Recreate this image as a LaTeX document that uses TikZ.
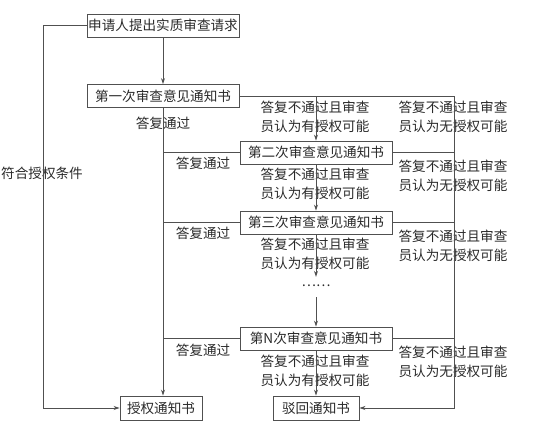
\documentclass[tikz,border=0pt]{standalone}
\usepackage{fontspec}
\setmainfont{Noto Sans CJK SC}
\usetikzlibrary{arrows.meta}
\definecolor{linegray}{HTML}{505050}
\definecolor{textgray}{HTML}{2A2A2A}
\tikzset{
  stepbox/.style={draw=linegray, line width=0.9pt, minimum width=152pt, minimum height=23pt, inner sep=0pt},
  endbox/.style={draw=linegray, line width=0.9pt, minimum height=24pt, inner sep=0pt},
  lbl/.style={align=center, inner sep=0pt},
  flow/.style={draw=linegray, line width=0.9pt},
  arr/.style={flow, -{Stealth[length=6pt,width=4pt]}}
}
\begin{document}
\begin{tikzpicture}[x=1pt, y=-1pt, font=\fontsize{13.6}{19.5}\selectfont, text=textgray]
      \useasboundingbox (0,0) rectangle (544,434);
      \draw
        (163,25.5) node[stepbox] (req){申请人提出实质审查请求}
        (163,96) node[stepbox] (n1){第一次审查意见通知书}
        (316,152.5) node[stepbox] (n2){第二次审查意见通知书}
        (316,222.5) node[stepbox] (n3){第三次审查意见通知书}
        (316,287) node[lbl, minimum height=20pt] (dots){\raisebox{3pt}{……}}
        (316,338.5) node[stepbox] (nN){第N次审查意见通知书}
        (161,408) node[endbox, minimum width=82pt] (grant){授权通知书}
        (316,408) node[endbox, minimum width=86pt] (reject){驳回通知书};
      \coordinate (lft) at (43,0);
      \coordinate (rgt) at (454,0);
      \draw
        (42,173) node[lbl] (cond){符合授权条件}
        (163,123) node[lbl] (pass1){答复通过}
        (315,117) node[lbl] (yes1){答复不通过且审查\\员认为有授权可能}
        (453,117) node[lbl] (no1){答复不通过且审查\\员认为无授权可能}
        (203,163) node[lbl] (pass2){答复通过}
        (315,184) node[lbl] (yes2){答复不通过且审查\\员认为有授权可能}
        (453,176) node[lbl] (no2){答复不通过且审查\\员认为无授权可能}
        (203,233) node[lbl] (pass3){答复通过}
        (315,254) node[lbl] (yes3){答复不通过且审查\\员认为有授权可能}
        (453,246) node[lbl] (no3){答复不通过且审查\\员认为无授权可能}
        (203,350) node[lbl] (passN){答复通过}
        (315,371) node[lbl] (yesN){答复不通过且审查\\员认为有授权可能}
        (453,362) node[lbl] (noN){答复不通过且审查\\员认为无授权可能};
      \begin{scope}[arr]
        \draw (req) to (n1);
        \draw (req.west) -- (req.west -| lft) |- (grant.west);
        \draw (n1.south) -- (n1.south |- grant.north);
        \draw (n1.east) -- (n1.east -| rgt) |- (reject.east);
        \draw (n1.east -| n2.north) -- (n2.north);
        \draw (n2) to (n3);
        \draw (n3) to (dots);
        \draw (dots) to (nN);
        \draw (nN) to (reject);
      \end{scope}
      \begin{scope}[flow]
        \draw (n2.west) -- (n2.west -| n1.south);
        \draw (n2.east) -- (n2.east -| rgt);
        \draw (n3.west) -- (n3.west -| n1.south);
        \draw (n3.east) -- (n3.east -| rgt);
        \draw (nN.west) -- (nN.west -| n1.south);
        \draw (nN.east) -- (nN.east -| rgt);
      \end{scope}
    \end{tikzpicture}
\end{document}
